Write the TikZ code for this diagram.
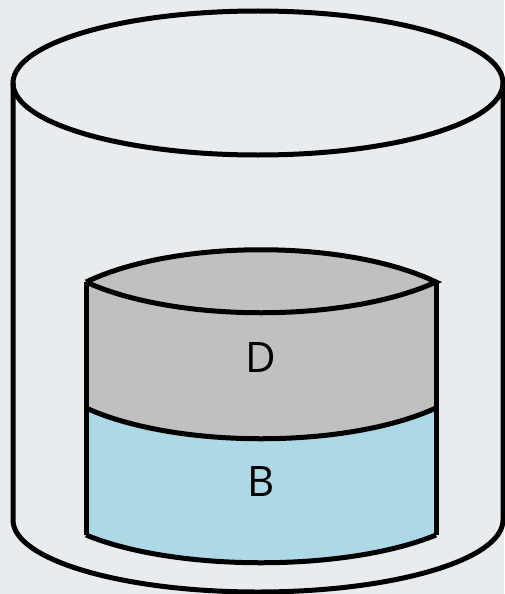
\documentclass[tikz,border=0pt]{standalone}
\usepackage{fontspec}
\setmainfont{Open Sans}
\usetikzlibrary{calc}

\definecolor{paper}{HTML}{E8ECEE}
\definecolor{layerD}{HTML}{C0C0C0}
\definecolor{layerB}{HTML}{ADD8E6}

\begin{document}
\begin{tikzpicture}[x=1pt,y=-1pt,line width=5pt]
\def\bend{41}
\fill[paper] (0,0) rectangle (504,594);
\useasboundingbox (0,0) rectangle (504,594);

% Corners of the two layers
\coordinate (Dtopleft) at (86,282);
\coordinate (Dtopright) at (436,282);
\coordinate (DBleft) at (86,408);
\coordinate (DBright) at (436,408);
\coordinate (Bbotleft) at (86,535);
\coordinate (Bbotright) at (436,535);

% Layer D, with its curved top face
\fill[layerD] (Dtopleft)
    .. controls ($(Dtopleft)+(90,-43)$) and ($(Dtopright)+(-90,-43)$) .. (Dtopright)
    -- (DBright)
    .. controls ($(DBright)+(-90,\bend)$) and ($(DBleft)+(90,\bend)$) .. (DBleft)
    -- cycle;

% Layer B below it
\fill[layerB] (DBleft)
    .. controls ($(DBleft)+(90,\bend)$) and ($(DBright)+(-90,\bend)$) .. (DBright)
    -- (Bbotright)
    .. controls ($(Bbotright)+(-90,37)$) and ($(Bbotleft)+(90,37)$) .. (Bbotleft)
    -- cycle;

% Outlines of the layers
\draw (Dtopleft)
    .. controls ($(Dtopleft)+(90,-43)$) and ($(Dtopright)+(-90,-43)$) .. (Dtopright)
    .. controls ($(Dtopright)+(-90,\bend)$) and ($(Dtopleft)+(90,\bend)$) .. (Dtopleft);
\draw (Dtopleft) -- (Bbotleft);
\draw (Dtopright) -- (Bbotright);
\draw (DBleft)
    .. controls ($(DBleft)+(90,\bend)$) and ($(DBright)+(-90,\bend)$) .. (DBright);
\draw (Bbotleft)
    .. controls ($(Bbotleft)+(90,37)$) and ($(Bbotright)+(-90,37)$) .. (Bbotright);

% Labels
\node (labelD) at (261,358) {\fontsize{42}{50}\selectfont D};
\node (labelB) at (261,482) {\fontsize{42}{50}\selectfont B};

% The cylinder
\draw (258,83) ellipse [x radius=245, y radius=72];
\draw (13,83) -- (13,520)
    arc[start angle=180, end angle=0, x radius=245, y radius=72]
    -- (503,83);
\end{tikzpicture}
\end{document}
